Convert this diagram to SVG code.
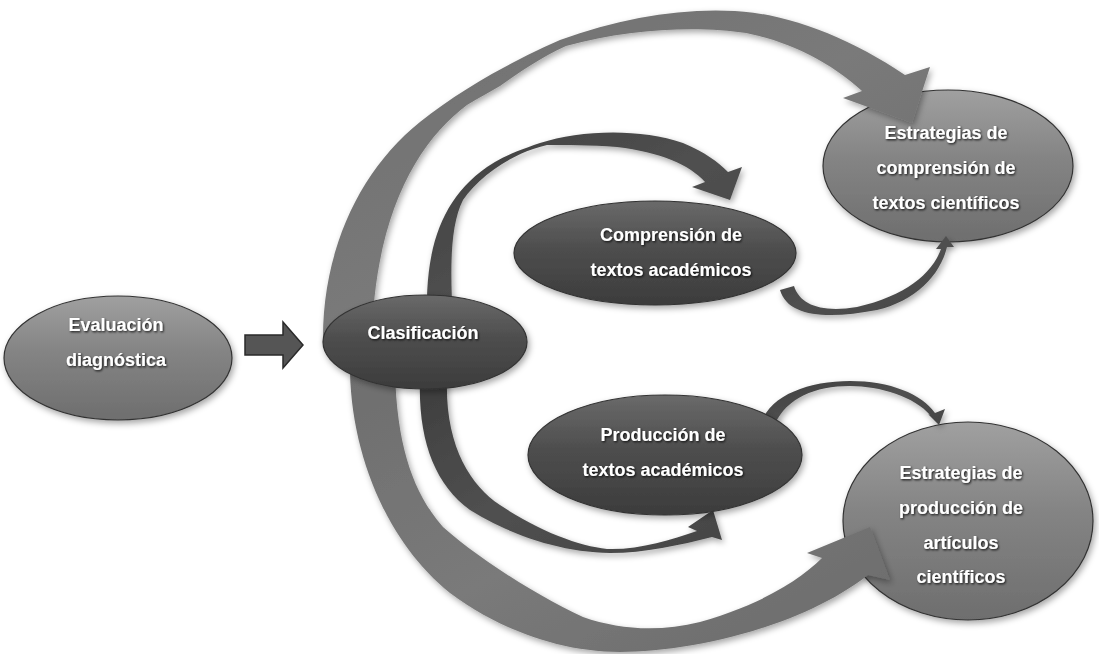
<svg xmlns="http://www.w3.org/2000/svg" width="1099" height="654" viewBox="0 0 1099 654">
<defs>
<linearGradient id="gDark" x1="0" y1="0" x2="0" y2="1"><stop offset="0" stop-color="#6a6a6a"/><stop offset="0.45" stop-color="#4e4e4e"/><stop offset="1" stop-color="#3c3c3c"/></linearGradient>
<linearGradient id="gLight" x1="0" y1="0" x2="0" y2="1"><stop offset="0" stop-color="#a0a0a0"/><stop offset="0.45" stop-color="#848484"/><stop offset="1" stop-color="#6e6e6e"/></linearGradient>
<linearGradient id="gArrMid" x1="0" y1="0" x2="1" y2="1"><stop offset="0" stop-color="#6e6e6e"/><stop offset="0.5" stop-color="#7a7a7a"/><stop offset="1" stop-color="#6a6a6a"/></linearGradient>
<linearGradient id="gArrDark" x1="0" y1="0" x2="1" y2="1"><stop offset="0" stop-color="#3e3e3e"/><stop offset="0.5" stop-color="#505050"/><stop offset="1" stop-color="#454545"/></linearGradient>
<filter id="sh" x="-20%" y="-20%" width="140%" height="150%"><feDropShadow dx="2" dy="3" stdDeviation="3" flood-color="#000" flood-opacity="0.35"/></filter>
<filter id="ts" x="-10%" y="-30%" width="120%" height="160%"><feDropShadow dx="1" dy="1.2" stdDeviation="0.8" flood-color="#000" flood-opacity="0.85"/></filter>
<style>
.nd{stroke:#333;stroke-width:1.2;filter:url(#sh)}
.dk{fill:url(#gDark)}
.lt{fill:url(#gLight)}
.tx{font-family:"Liberation Sans",Arial,sans-serif;font-weight:bold;font-size:18px;fill:#fff;text-anchor:middle;filter:url(#ts)}
.am{fill:url(#gArrMid);filter:url(#sh)}
.ad{fill:url(#gArrDark);filter:url(#sh)}
</style>
</defs>
<rect width="1099" height="654" fill="#fff"/>

<g id="node-estrategias-comprension">
<ellipse class="nd lt" cx="948" cy="166" rx="125" ry="76"/>
<text class="tx" x="946" y="139">Estrategias de</text>
<text class="tx" x="946" y="174">comprensión de</text>
<text class="tx" x="946" y="209">textos científicos</text>
</g>
<g id="node-estrategias-produccion">
<ellipse class="nd lt" cx="968" cy="521" rx="125" ry="99"/>
<text class="tx" x="961" y="479">Estrategias de</text>
<text class="tx" x="961" y="514">producción de</text>
<text class="tx" x="961" y="549">artículos</text>
<text class="tx" x="961" y="583">científicos</text>
</g>

<g id="connectors">
<path id="arrow-evaluacion-clasificacion" d="M245,335 L283,335 L283,322 L303,345 L283,368 L283,355 L245,355 Z" fill="#555" stroke="#2a2a2a" stroke-width="1.5"/>
<path id="arrow-clasif-estrat-comp" class="am" d="M323,342 C322,250 360,170 420,122 C460,90 510,62 560,40 C620,18 680,8 735,11 C790,14 850,38 905,75 L930,67 L912,123 L843,98 L862,91 C830,62 790,42 746,33 C700,26 630,28 566,46 C540,58 520,72 500,86 C490,92 478,98 467,105 C420,140 376,210 372,335 Z"/>
<path id="arrow-clasif-comprension" class="ad" d="M427,320 C425,250 440,200 487,167 C505,155 520,150 540,143 C580,130 640,128 683,143 C705,152 718,162 728,172 L742,167 L730,200 L692,187 L705,182 C690,165 660,152 617,147 C590,145 565,145 547,145 C515,152 480,175 463,200 C450,225 450,270 453,320 Z"/>
<path id="arrow-clasif-produccion" class="ad" d="M420,380 C418,440 435,485 470,510 C510,535 560,552 610,553 C645,553 680,545 712,537 L722,540 L713,510 L688,527 L697,531 C670,540 640,550 607,549 C580,546 540,532 500,505 C470,485 445,445 447,380 Z"/>
<path id="arrow-clasif-estrat-prod" class="am" d="M350,372 C352,460 390,545 450,593 C500,630 560,652 620,652 C690,652 800,628 868,575 L890,580 L870,527 L807,553 L822,558 C800,580 760,605 700,622 C660,632 620,630 583,617 C540,597 480,560 443,527 C415,495 397,450 395,372 Z"/>
<path id="arrow-comprension-estrat-comp" class="ad" d="M780,290 C788,318 830,319 877,310 C915,301 940,276 947,247 L954,247 L946,236 L936,249 L941,249 C932,274 905,296 857,307 C822,313 800,305 794,286 Z"/>
<path id="arrow-produccion-estrat-prod" class="ad" d="M762,422 C770,395 810,381 850,381 C890,381 922,394 935,413 L945,409 L939,425 L928,414 L930,415 C915,397 880,386 850,386 C815,386 787,398 775,424 Z"/>
</g>

<g id="node-evaluacion">
<ellipse class="nd" cx="118" cy="358" rx="114" ry="62" fill="url(#gLight)"/>
<text class="tx" x="116" y="331">Evaluación</text>
<text class="tx" x="116" y="366">diagnóstica</text>
</g>
<g id="node-clasificacion">
<ellipse class="nd dk" cx="425" cy="342" rx="102" ry="47"/>
<text class="tx" x="423" y="339">Clasificación</text>
</g>
<g id="node-comprension">
<ellipse class="nd dk" cx="655" cy="253" rx="141" ry="52"/>
<text class="tx" x="671" y="241">Comprensión de</text>
<text class="tx" x="671" y="276">textos académicos</text>
</g>
<g id="node-produccion">
<ellipse class="nd dk" cx="665" cy="455" rx="137" ry="60"/>
<text class="tx" x="663" y="441">Producción de</text>
<text class="tx" x="663" y="476">textos académicos</text>
</g>
</svg>
